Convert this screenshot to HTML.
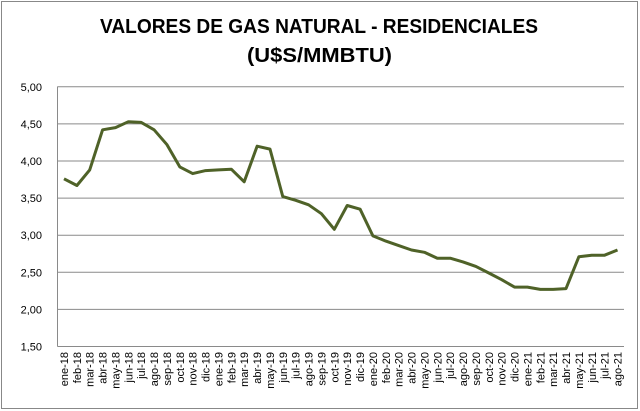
<!DOCTYPE html>
<html><head><meta charset="utf-8"><style>
html,body{margin:0;padding:0;background:#fff;}
svg{display:block;font-family:"Liberation Sans",sans-serif;}
</style></head><body>
<svg id="s" width="640" height="411" xmlns="http://www.w3.org/2000/svg">
<rect x="1.5" y="1.5" width="636" height="407" fill="#fff" stroke="#888" stroke-width="1"/>
<text x="100" y="33" textLength="438" lengthAdjust="spacingAndGlyphs" font-size="20" font-weight="bold" fill="#000">VALORES DE GAS NATURAL - RESIDENCIALES</text>
<text x="247" y="62" textLength="145" lengthAdjust="spacingAndGlyphs" font-size="20" font-weight="bold" fill="#000">(U$S/MMBTU)</text>
<g id="g"></g>
</svg>
<script>
var g=document.getElementById('g'),ns='http://www.w3.org/2000/svg';
function el(t,a,txt){var e=document.createElementNS(ns,t);for(var k in a)e.setAttribute(k,a[k]);if(txt)e.textContent=txt;g.appendChild(e);return e;}
var L=57.5,R=624,T=86.5,B=346.5;
function Y(v){return B-(v-1.5)*74.2;}
for(var i=0;i<8;i++){var v=1.5+i*0.5,y=Y(v);
 if(i>0)el('line',{x1:L,x2:R,y1:y,y2:y,stroke:'#8a8a8a','stroke-width':1});
 el('text',{x:42,y:y+4,'text-anchor':'end','font-size':11,fill:'#000'},v.toFixed(2).replace('.',','));}
el('line',{x1:L,x2:L,y1:T,y2:B,stroke:'#8a8a8a'});
el('line',{x1:L,x2:R,y1:B,y2:B,stroke:'#8a8a8a'});
var d=[3.76,3.67,3.88,4.42,4.45,4.53,4.52,4.42,4.22,3.92,3.83,3.87,3.88,3.89,3.72,4.20,4.16,3.52,3.47,3.41,3.29,3.08,3.40,3.35,2.99,2.92,2.86,2.80,2.77,2.69,2.69,2.64,2.58,2.49,2.40,2.30,2.30,2.27,2.27,2.28,2.71,2.73,2.73,2.80];
var m=['ene','feb','mar','abr','may','jun','jul','ago','sep','oct','nov','dic'];
var step=(617.5-64)/43,pts=[];
for(var i=0;i<44;i++){var x=64+i*step;pts.push(x.toFixed(1)+','+Y(d[i]).toFixed(1));
 var lab=m[i%12]+'-'+(18+Math.floor(i/12));
 el('text',{x:0,y:0,transform:'translate('+(x+4)+',352) rotate(-90)','text-anchor':'end','font-size':11,fill:'#000'},lab);}
el('polyline',{points:pts.join(' '),fill:'none',stroke:'#4f6228','stroke-width':3,'stroke-linejoin':'round'});
</script>
</body></html>
